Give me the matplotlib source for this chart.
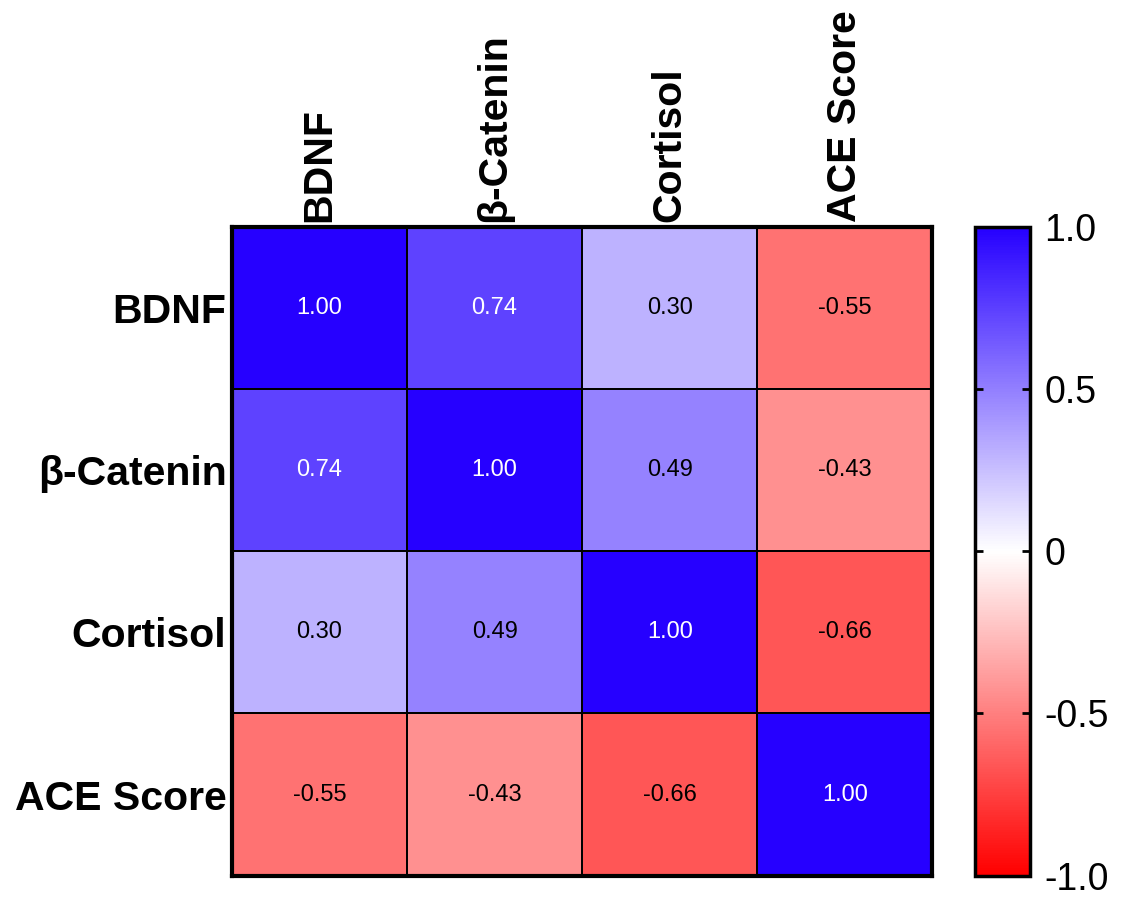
import numpy as np
import matplotlib
matplotlib.use("Agg")
import matplotlib.pyplot as plt
from matplotlib.colors import LinearSegmentedColormap

# --- Data ---
labels = ["BDNF", "β-Catenin", "Cortisol", "ACE Score"]
corr = [
    [1.00, 0.74, 0.30, -0.55],
    [0.74, 1.00, 0.49, -0.43],
    [0.30, 0.49, 1.00, -0.66],
    [-0.55, -0.43, -0.66, 1.00],
]
cbar_ticks = [-1.0, -0.5, 0, 0.5, 1.0]
cbar_ticklabels = ["-1.0", "-0.5", "0", "0.5", "1.0"]

plt.rcParams["font.family"] = ["Liberation Sans", "DejaVu Sans"]

# red - white - blue diverging map
cmap = LinearSegmentedColormap.from_list("rwb", ["#ff0000", "#ffffff", "#2600ff"])

fig = plt.figure(figsize=(11.26, 8.98), dpi=100)
ax = fig.add_axes([0.206, 0.025, 0.622, 0.722])
cax = fig.add_axes([0.866, 0.025, 0.049, 0.722])

data = np.array(corr)
n = len(labels)
mesh = ax.pcolormesh(np.arange(n + 1), np.arange(n + 1), data, cmap=cmap,
                     vmin=-1, vmax=1, edgecolors="black", linewidth=1.2)
ax.set_xlim(0, n)
ax.set_ylim(n, 0)

for i in range(n):
    for j in range(n):
        v = data[i, j]
        ax.text(j + 0.5, i + 0.5, f"{v:.2f}", ha="center", va="center",
                fontsize=17, color="white" if v > 0.6 else "black")

ax.xaxis.tick_top()
ax.set_xticks(np.arange(n) + 0.5)
ax.set_xticklabels(labels, rotation=90, fontsize=29.5, fontweight="bold")
ax.set_yticks(np.arange(n) + 0.5)
ax.set_yticklabels(labels, fontsize=29.5, fontweight="bold")
ax.tick_params(length=0, pad=4)
for s in ax.spines.values():
    s.set_linewidth(3)

# --- Colorbar ---
cb = fig.colorbar(mesh, cax=cax, ticks=cbar_ticks)
cb.set_ticklabels(cbar_ticklabels)
cb.outline.set_linewidth(2.5)
cax.tick_params(labelsize=27, length=6, width=2, direction="in",
                left=True, right=True, pad=10)

fig.savefig("out.png", dpi=100)
